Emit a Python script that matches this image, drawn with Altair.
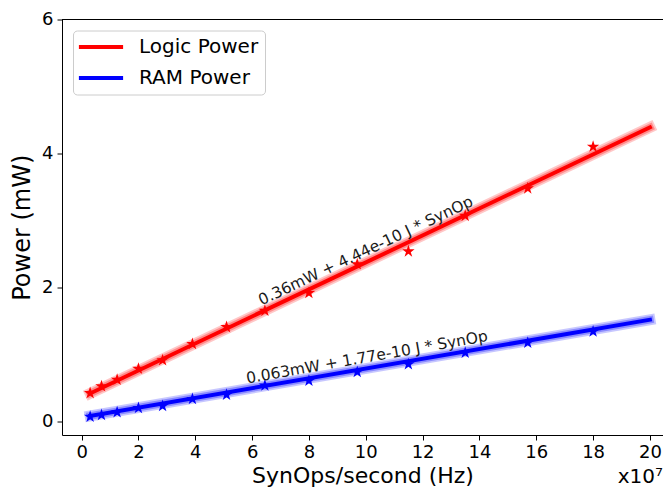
import altair as alt
import pandas as pd

# ---- data ----
synops = [0.3, 0.7, 1.25, 2.0, 2.85, 3.9, 5.1, 6.45, 8.0, 9.7, 11.5, 13.5, 15.7, 18.0]
logic_power = [0.425, 0.527, 0.624, 0.788, 0.914, 1.157, 1.41, 1.655, 1.92, 2.347, 2.54, 3.07, 3.48, 4.10]
ram_power = [0.073, 0.097, 0.141, 0.203, 0.232, 0.338, 0.40, 0.54, 0.61, 0.74, 0.856, 1.026, 1.176, 1.345]

fit_x = [0.3, 20.0]
logic_fit = [0.42, 4.39]
ram_fit = [0.085, 1.52]

series = ["Logic Power", "RAM Power"]
colors = ["#ff0000", "#0000ff"]

fit_labels = ["0.36mW + 4.44e-10 J * SynOp", "0.063mW + 1.77e-10 J * SynOp"]
fit_label_x = [10.0, 10.04]
fit_label_y = [2.55, 0.96]
fit_label_angle = [334.7, 350.0]

x_ticks = list(range(0, 21, 2))
y_ticks = [0, 2, 4, 6]
x_offset_label = "x10\u2077"

# ---- tables ----
n = len(synops)
pts = pd.DataFrame({
    "x": synops + synops,
    "y": logic_power + ram_power,
    "series": [series[0]] * n + [series[1]] * n,
})
fit = pd.DataFrame({
    "x": fit_x + fit_x,
    "y": logic_fit + ram_fit,
    "series": [series[0]] * 2 + [series[1]] * 2,
})
ann = pd.DataFrame({
    "x": fit_label_x, "y": fit_label_y, "text": fit_labels, "angle": fit_label_angle,
})

FONT = "DejaVu Sans"
STAR = ("M0,-1L0.2245,-0.309L0.951,-0.309L0.363,0.118L0.588,0.809L0,0.382"
        "L-0.588,0.809L-0.363,0.118L-0.951,-0.309L-0.2245,-0.309Z")
LINE_SYMBOL = "M-2.6,0L2.6,0"

W, H = 601, 415.5

xscale = alt.Scale(domain=[-0.69, 20.46], nice=False, zero=False)
yscale = alt.Scale(domain=[-0.2, 6], nice=False, zero=False)

xaxis = alt.Axis(values=x_ticks, format="d", title="SynOps/second (Hz)", grid=False,
                 labelFontSize=18, tickSize=5, labelPadding=3, titleFontSize=22,
                 titlePadding=4, titleFontWeight="normal", labelFlush=False)
yaxis = alt.Axis(values=y_ticks, format="d", title="Power (mW)", grid=False,
                 labelFontSize=18, tickSize=5, labelPadding=4, titleFontSize=24,
                 titlePadding=7, titleFontWeight="normal", labelFlush=False)

X = alt.X("x:Q", scale=xscale, axis=xaxis)
Y = alt.Y("y:Q", scale=yscale, axis=yaxis)

layers = []
# translucent bands around each fit line (one layer per series, constant colour)
for name, col in zip(series, colors):
    sub = alt.Chart(fit).transform_filter(alt.datum.series == name)
    layers.append(sub.mark_line(strokeWidth=11, opacity=0.22, strokeCap="square", color=col)
                  .encode(x=X, y=Y))
    layers.append(sub.mark_line(strokeWidth=7.5, opacity=0.3, strokeCap="square", color=col)
                  .encode(x=X, y=Y))

# core fit lines, carrying the legend
layers.append(alt.Chart(fit).mark_line(strokeWidth=4, strokeCap="square").encode(
    x=X, y=Y,
    color=alt.Color("series:N", scale=alt.Scale(domain=series, range=colors), legend=alt.Legend(
        title=None, orient="top-left", offset=11,
        symbolType=LINE_SYMBOL, symbolSize=289, symbolStrokeWidth=4,
        labelFontSize=20, labelFont=FONT, labelColor="black", padding=6, rowPadding=10,
        symbolOffset=11.5, labelOffset=27.5,
        strokeColor="#cccccc", fillColor="rgba(255,255,255,0.8)", cornerRadius=4))))

# measured points (stars)
for name, col in zip(series, colors):
    layers.append(alt.Chart(pts).transform_filter(alt.datum.series == name)
                  .mark_point(shape=STAR, filled=True, size=170, opacity=1, strokeWidth=0, color=col)
                  .encode(x=X, y=Y))

layers.append(alt.Chart(ann).mark_text(fontSize=15.5, font=FONT, color="#1a1a1a",
                                       align="center", baseline="middle").encode(
    x=X, y=Y, text="text:N", angle=alt.Angle("angle:Q", scale=None)))

layers.append(alt.Chart(pd.DataFrame({"a": [0]})).mark_rule(color="black", strokeWidth=1).encode(
    y=alt.value(0), x=alt.value(0), x2=alt.value(W)))

layers.append(alt.Chart(pd.DataFrame({"t": [x_offset_label]})).mark_text(
    fontSize=20, font=FONT, color="black", align="right", baseline="alphabetic",
    clip=False).encode(x=alt.value(W), y=alt.value(463), text="t:N"))

chart = alt.layer(*layers).properties(
    width=W, height=H,
    autosize=alt.AutoSizeParams(type="none"),
    padding={"left": 54, "top": 11.5, "right": 0, "bottom": 53},
).configure(font=FONT).configure_view(
    strokeWidth=0
).configure_axis(
    domainColor="black", tickColor="black", labelColor="black", titleColor="black",
    domainWidth=1, tickWidth=1, labelFont=FONT, titleFont=FONT
)

chart.save("out.html", embed_options={"renderer": "svg", "actions": False})
